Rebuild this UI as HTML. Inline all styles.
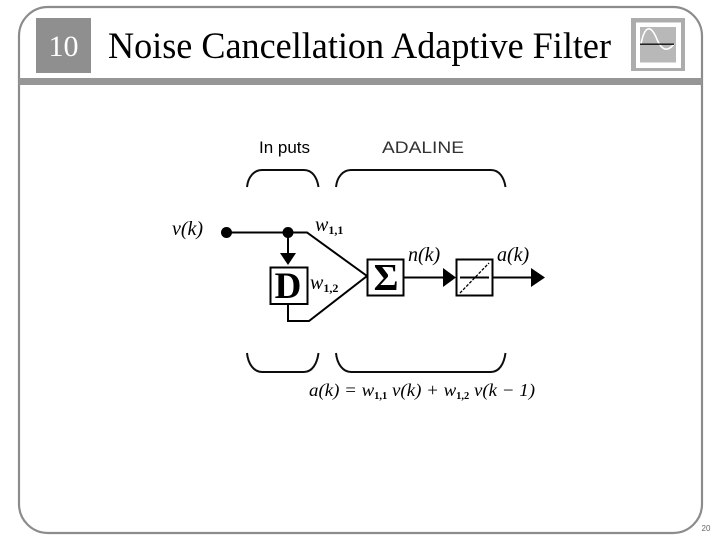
<!DOCTYPE html>
<html>
<head>
<meta charset="utf-8">
<style>
html,body{margin:0;padding:0;background:#fff}
svg{display:block}
</style>
</head>
<body>
<svg width="720" height="540" viewBox="0 0 720 540" xmlns="http://www.w3.org/2000/svg">
<defs><filter id="b" x="-5%" y="-5%" width="110%" height="110%"><feGaussianBlur stdDeviation="0.35"/></filter></defs>
<rect width="720" height="540" fill="#fff"/>
<rect x="19" y="7" width="683" height="526" rx="29" ry="29" fill="none" stroke="#8c8c8c" stroke-width="2.2"/>
<rect x="19" y="78" width="683" height="7" fill="#969696"/>
<rect x="36" y="18" width="55" height="55" fill="#8f8f8f"/>
<text x="63.5" y="56" font-family="Liberation Serif" font-size="30" fill="#fff" text-anchor="middle">10</text>
<text x="108" y="58" font-family="Liberation Serif" font-size="36.500" fill="#000" textLength="503" lengthAdjust="spacingAndGlyphs">Noise Cancellation Adaptive Filter</text>
<rect x="631" y="18" width="54" height="53" fill="#acacac"/>
<rect x="636" y="22.500" width="45" height="45.500" fill="#fff"/>
<rect x="640" y="27" width="36" height="35.500" fill="#b8b8b8"/>
<path d="M641 44C645 24 651 26 656 37C661 50 667 53 674 44" fill="none" stroke="#fff" stroke-width="1.600"/>
<rect x="640" y="43.500" width="34" height="1.400" fill="#111"/>
<text x="706" y="531" font-family="Liberation Sans" font-size="8" fill="#666" text-anchor="middle">20</text>
<g filter="url(#b)">
<g font-family="Liberation Sans" fill="#000">
<text x="259" y="153" font-size="17" textLength="51" lengthAdjust="spacing">In puts</text>
<text x="382" y="153" font-size="17" fill="#333" textLength="82" lengthAdjust="spacingAndGlyphs">ADALINE</text>
</g>
<g fill="none" stroke="#111" stroke-width="2">
<path d="M247 187C248 177 254 170 262 170H304C312 170 317 177 318.500 187"/>
<path d="M336 187C337 177 343 170 351 170H491C499 170 504 177 505.500 187"/>
<path d="M247 353C248 364 254 372 262 372H304C312 372 317 364 318.500 353"/>
<path d="M336 353C337 364 343 372 351 372H491C499 372 504 364 505.500 353"/>
</g>
<circle cx="226.500" cy="232.500" r="5.500" fill="#000"/>
<circle cx="288" cy="232.500" r="5.500" fill="#000"/>
<g fill="none" stroke="#000" stroke-width="2">
<path d="M226 232.500H307L367 276L309 321H288V304"/>
<path d="M288 232V255"/>
<rect x="270.500" y="267.500" width="37" height="36.500" fill="#fff"/>
<rect x="367.500" y="259.500" width="36" height="36" fill="#fff"/>
<rect x="456.500" y="259.500" width="36" height="36" fill="#fff"/>
<path d="M404 277.500H444"/>
<path d="M493 277.500H532"/>
<path d="M460 277.500H489"/>
<path d="M460 293L489 263" stroke-dasharray="3 1.500" stroke-width="1.300"/>
</g>
<path d="M280 253H296L288 265Z" fill="#000"/>
<path d="M443 268L456 277.500L443 287Z" fill="#000"/>
<path d="M531 268L545 277.500L531 287Z" fill="#000"/>
<text x="288" y="298" font-family="Liberation Serif" font-weight="bold" font-size="37" fill="#000" text-anchor="middle">D</text>
<text x="386" y="290" font-family="Liberation Serif" font-weight="bold" font-size="38" fill="#000" text-anchor="middle">Σ</text>
<g font-family="Liberation Serif" font-style="italic" font-size="20" fill="#000">
<text x="172" y="235">v(k)</text>
<text x="315" y="231">w<tspan font-size="12" dy="3" font-style="normal" font-weight="bold">1,1</tspan></text>
<text x="310" y="289">w<tspan font-size="12" dy="3" font-style="normal" font-weight="bold">1,2</tspan></text>
<text x="408" y="261">n(k)</text>
<text x="497" y="261">a(k)</text>
<text x="309" y="396" font-size="18" textLength="226" lengthAdjust="spacingAndGlyphs">a(k) = w<tspan font-size="10" dy="3" font-style="normal" font-weight="bold">1,1</tspan><tspan dy="-3"> v(k) + w</tspan><tspan font-size="10" dy="3" font-style="normal" font-weight="bold">1,2</tspan><tspan dy="-3"> v(k − 1)</tspan></text>
</g>
</g>
</svg>
</body>
</html>
